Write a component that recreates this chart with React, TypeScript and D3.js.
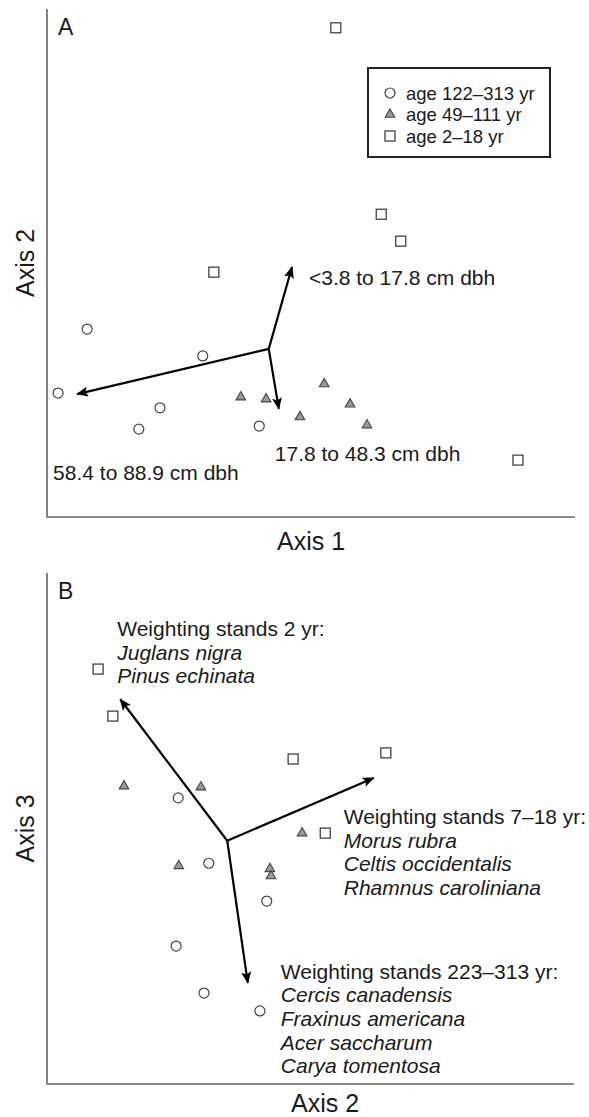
import React, { useEffect, useRef } from "react";
import * as d3 from "d3";

const groups = ["age 122–313 yr", "age 49–111 yr", "age 2–18 yr"];

// Panel A: Axis 1 (x) vs Axis 2 (y), ordination scores rescaled 0-100
const aOld = [[7.6, 37.0], [29.5, 31.7], [2.1, 24.4], [21.4, 21.5], [17.4, 17.3], [40.2, 17.9]];
const aMid = [[36.7, 23.6], [41.5, 23.2], [52.5, 26.2], [57.4, 22.2], [47.9, 19.7], [60.6, 18.1]];
const aYoung = [[54.7, 96.3], [63.3, 59.6], [67.0, 54.3], [31.6, 48.2], [89.2, 11.2]];
const aOrigin = [42.0, 33.1];
const aVectors = [[46.4, 49.2], [43.9, 21.3], [5.7, 24.2]];
const aLabels = [["<3.8 to 17.8 cm dbh"], ["17.8 to 48.3 cm dbh"], ["58.4 to 88.9 cm dbh"]];

// Panel B: Axis 2 (x) vs Axis 3 (y)
const bOld = [[24.9, 56.0], [30.7, 43.2], [41.7, 35.8], [24.5, 27.0], [29.8, 17.8], [40.4, 14.3]];
const bMid = [[14.6, 58.3], [29.2, 58.1], [48.4, 49.1], [25.0, 42.7], [42.3, 42.1], [42.5, 40.7]];
const bYoung = [[9.7, 81.2], [12.5, 72.0], [46.7, 63.6], [64.3, 64.8], [52.8, 49.1]];
const bOrigin = [34.2, 47.6];
const bVectors = [[13.9, 75.3], [62.0, 59.9], [38.1, 19.8]];
const bLabels = [
  ["Weighting stands 2 yr:", "Juglans nigra", "Pinus echinata"],
  ["Weighting stands 7–18 yr:", "Morus rubra", "Celtis occidentalis", "Rhamnus caroliniana"],
  ["Weighting stands 223–313 yr:", "Cercis canadensis", "Fraxinus americana", "Acer saccharum", "Carya tomentosa"]
];

const FONT = "Arial, 'Liberation Sans', Helvetica, sans-serif";

function drawMarker(g, shape, x, y) {
  if (shape === "circle") {
    g.append("circle").attr("cx", x).attr("cy", y).attr("r", 5)
      .attr("fill", "white").attr("stroke", "#444").attr("stroke-width", 1.2);
  } else if (shape === "square") {
    g.append("rect").attr("x", x - 5).attr("y", y - 5).attr("width", 10).attr("height", 10)
      .attr("fill", "white").attr("stroke", "#333").attr("stroke-width", 1.2);
  } else {
    g.append("path").attr("d", d3.symbol(d3.symbolTriangle, 40)())
      .attr("transform", `translate(${x},${y})`)
      .attr("fill", "#9a9a9a").attr("stroke", "#444").attr("stroke-width", 1.1);
  }
}

function drawPanel(svg, p) {
  const x = d3.scaleLinear().domain([0, 100]).range([47, p.right]);
  const y = d3.scaleLinear().domain([0, 100]).range([p.bottom, p.top]);
  const g = svg.append("g");

  // frame (left and bottom axis lines only)
  g.append("path")
    .attr("d", `M${x(0)},${y(100)}V${y(0)}H${x(100)}`)
    .attr("fill", "none").attr("stroke", "#666").attr("stroke-width", 1.6);

  g.append("text").attr("x", 58).attr("y", y(100) + 26)
    .style("font-size", "23px").text(p.letter);

  g.append("text").attr("x", p.xTitleX).attr("y", p.bottom + p.xTitleDy)
    .attr("text-anchor", "middle").style("font-size", "25px").text(p.xTitle);

  g.append("text")
    .attr("transform", `translate(34,${(y(0) + y(100)) / 2}) rotate(-90)`)
    .attr("text-anchor", "middle").style("font-size", "25px").text(p.yTitle);

  // points
  p.series.forEach(([pts, shape]) => {
    pts.forEach(d => drawMarker(g, shape, x(d[0]), y(d[1])));
  });

  // vectors
  p.vectors.forEach((v, i) => {
    g.append("line")
      .attr("x1", x(p.origin[0])).attr("y1", y(p.origin[1]))
      .attr("x2", x(v[0])).attr("y2", y(v[1]))
      .attr("stroke", "black").attr("stroke-width", 2.2)
      .attr("marker-end", "url(#arrow)");
    const [dx, dy] = p.labelOffsets[i];
    const t = g.append("text")
      .attr("x", x(v[0]) + dx).attr("y", y(v[1]) + dy)
      .style("font-size", "21px");
    p.labels[i].forEach((line, j) => {
      t.append("tspan")
        .attr("x", x(v[0]) + dx)
        .attr("dy", j === 0 ? 0 : 23.6)
        .style("font-style", p.italicRest && j > 0 ? "italic" : "normal")
        .text(line);
    });
  });
}

export default function App() {
  const ref = useRef(null);

  useEffect(() => {
    const svg = d3.select(ref.current);
    svg.selectAll("*").remove();
    svg.style("font-family", FONT).style("fill", "#1a1a1a");

    svg.append("defs").append("marker")
      .attr("id", "arrow")
      .attr("viewBox", "0 0 12 10")
      .attr("refX", 11).attr("refY", 5)
      .attr("markerUnits", "userSpaceOnUse")
      .attr("markerWidth", 12).attr("markerHeight", 10)
      .attr("orient", "auto")
      .append("path").attr("d", "M0,0L12,5L0,10L2.5,5Z").attr("fill", "black");

    drawPanel(svg, {
      top: 9, bottom: 517, right: 575, letter: "A",
      xTitle: "Axis 1", yTitle: "Axis 2", xTitleX: 311, xTitleDy: 33,
      series: [[aOld, "circle"], [aMid, "triangle"], [aYoung, "square"]],
      origin: aOrigin, vectors: aVectors, labels: aLabels, italicRest: false,
      labelOffsets: [[17, 17.5], [-4, 52.5], [-24, 86]]
    });

    drawPanel(svg, {
      top: 573, bottom: 1084, right: 574, letter: "B",
      xTitle: "Axis 2", yTitle: "Axis 3", xTitleX: 325, xTitleDy: 28,
      series: [[bOld, "circle"], [bMid, "triangle"], [bYoung, "square"]],
      origin: bOrigin, vectors: bVectors, labels: bLabels, italicRest: true,
      labelOffsets: [[-3, -63], [-30, 46], [33, -4]]
    });

    // legend
    const shapes = ["circle", "triangle", "square"];
    const lg = svg.append("g");
    lg.append("rect").attr("x", 368).attr("y", 68).attr("width", 182).attr("height", 89)
      .attr("fill", "white").attr("stroke", "#222").attr("stroke-width", 2);
    groups.forEach((name, i) => {
      const cy = 93 + i * 21.5;
      drawMarker(lg, shapes[i], 390, cy);
      lg.append("text").attr("x", 406).attr("y", cy + 6.5)
        .style("font-size", "18.5px").text(name);
    });
  }, []);

  return (
    <svg ref={ref} width={589} height={1117}
      style={{ position: "absolute", left: 0, top: 0, background: "white" }} />
  );
}
